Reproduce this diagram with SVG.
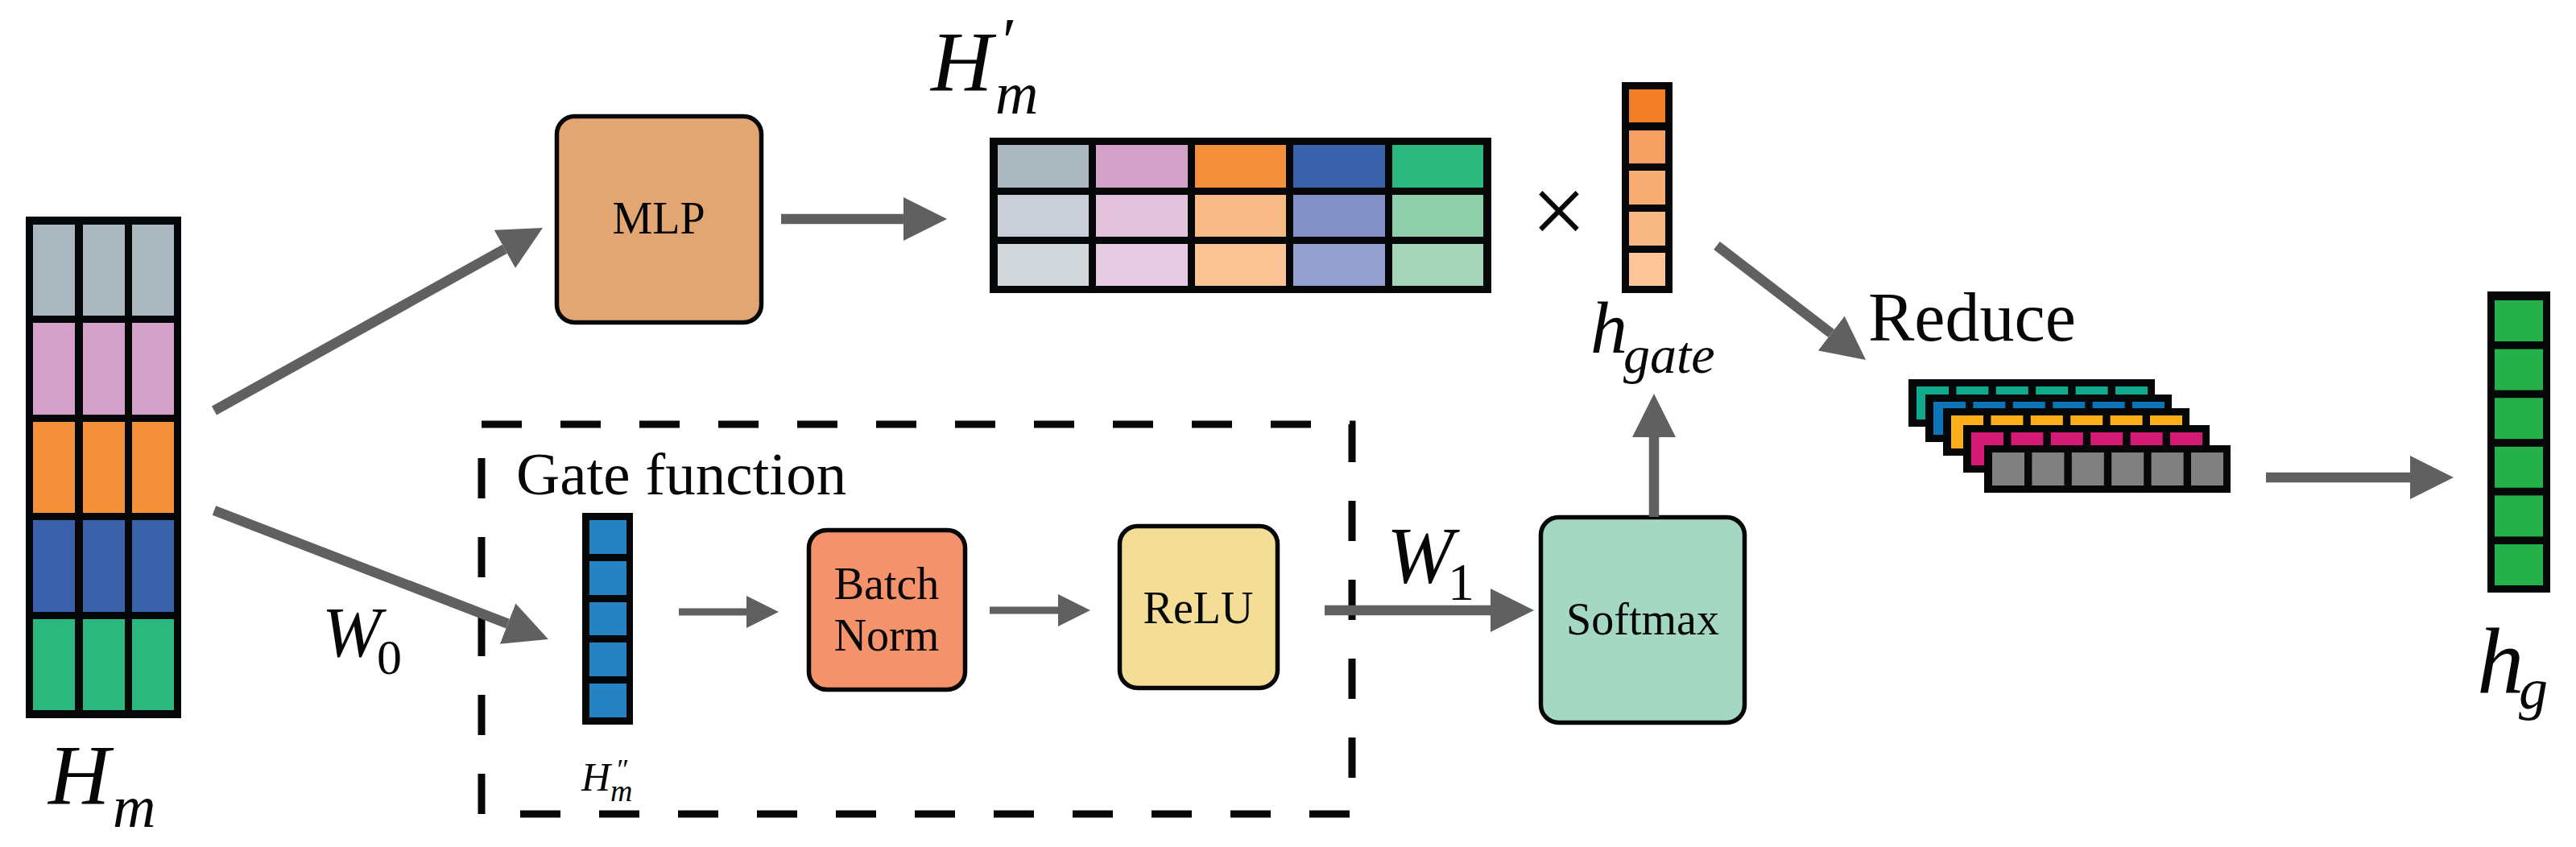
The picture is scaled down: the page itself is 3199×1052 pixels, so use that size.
<svg xmlns="http://www.w3.org/2000/svg" width="3199" height="1052" viewBox="0 0 3199 1052">
<style>
.bk{fill:#060709}
.box{stroke:#060709;stroke-width:5.5}
.t{font-family:"Liberation Serif","Times New Roman",serif;fill:#060709}
.i{font-style:italic}
.ar{stroke:#606060;stroke-width:12.5;fill:none}
.ars{stroke:#606060;stroke-width:9;fill:none}
.dash{fill:none;stroke:#060709;stroke-width:9;stroke-dasharray:50 48}
</style>
<defs>
<marker id="ah" markerUnits="userSpaceOnUse" markerWidth="54" markerHeight="54" viewBox="0 0 54 54" refX="0" refY="27" orient="auto"><path d="M0,0 L54,27 L0,54 z" fill="#606060"/></marker>
<marker id="ahs" markerUnits="userSpaceOnUse" markerWidth="40" markerHeight="40" viewBox="0 0 40 40" refX="0" refY="20" orient="auto"><path d="M0,0 L40,20 L0,40 z" fill="#606060"/></marker>
</defs>
<rect width="3199" height="1052" fill="#ffffff"/>

<g id="Hm">
<rect class="bk" x="32" y="269" width="193" height="623"/>
<g fill="#ABB7BF"><rect x="41" y="279" width="52" height="113"/><rect x="103" y="279" width="52" height="113"/><rect x="164" y="279" width="52" height="113"/></g>
<g fill="#D4A1C9"><rect x="41" y="401" width="52" height="114"/><rect x="103" y="401" width="52" height="114"/><rect x="164" y="401" width="52" height="114"/></g>
<g fill="#F4903A"><rect x="41" y="524" width="52" height="113"/><rect x="103" y="524" width="52" height="113"/><rect x="164" y="524" width="52" height="113"/></g>
<g fill="#3B61AB"><rect x="41" y="646" width="52" height="114"/><rect x="103" y="646" width="52" height="114"/><rect x="164" y="646" width="52" height="114"/></g>
<g fill="#2AB87F"><rect x="41" y="769" width="52" height="113"/><rect x="103" y="769" width="52" height="113"/><rect x="164" y="769" width="52" height="113"/></g>
<text class="t i" x="60" y="998" font-size="106">H</text>
<text class="t i" x="140" y="1027" font-size="74">m</text>
</g>

<g id="MLP">
<rect class="box" x="691.5" y="144.5" width="254" height="256" rx="22" fill="#E2A673"/>
<text class="t" x="818" y="290" font-size="56" text-anchor="middle">MLP</text>
</g>

<g id="Hm_prime">
<rect class="bk" x="1229" y="171" width="623" height="193"/>
<g fill="#ABB7BF"><rect x="1239" y="180" width="113" height="53"/></g>
<g fill="#D4A1C9"><rect x="1361" y="180" width="114" height="53"/></g>
<g fill="#F4903A"><rect x="1484" y="180" width="113" height="53"/></g>
<g fill="#3B61AB"><rect x="1606" y="180" width="114" height="53"/></g>
<g fill="#2AB87F"><rect x="1729" y="180" width="113" height="53"/></g>
<rect x="1239" y="242" width="113" height="52" fill="#CBD0D8"/>
<rect x="1361" y="242" width="114" height="52" fill="#E3C3DC"/>
<rect x="1484" y="242" width="113" height="52" fill="#F8BA86"/>
<rect x="1606" y="242" width="114" height="52" fill="#8491C6"/>
<rect x="1729" y="242" width="113" height="52" fill="#90CFAB"/>
<rect x="1239" y="303" width="113" height="52" fill="#D2D7DC"/>
<rect x="1361" y="303" width="114" height="52" fill="#E5CCE2"/>
<rect x="1484" y="303" width="113" height="52" fill="#FAC495"/>
<rect x="1606" y="303" width="114" height="52" fill="#93A0D0"/>
<rect x="1729" y="303" width="113" height="52" fill="#A5D5B9"/>
<text class="t i" x="1156" y="112" font-size="106">H</text>
<text class="t i" x="1240" y="78" font-size="80">′</text>
<text class="t i" x="1236" y="141" font-size="74">m</text>
</g>

<g id="times">
<text class="t" x="1936" y="303" font-size="122" text-anchor="middle">×</text>
</g>

<g id="h_gate">
<rect class="bk" x="2014" y="102" width="63" height="262"/>
<rect x="2023" y="111" width="45" height="41" fill="#F27E26"/>
<rect x="2023" y="162" width="45" height="41" fill="#F5A062"/>
<rect x="2023" y="212" width="45" height="42" fill="#F7AC72"/>
<rect x="2023" y="263" width="45" height="42" fill="#F9B984"/>
<rect x="2023" y="314" width="45" height="41" fill="#FCC69A"/>
<text class="t i" x="1975" y="438" font-size="92">h</text>
<text class="t i" x="2016" y="463" font-size="66">gate</text>
</g>

<g id="gate_function">
<rect class="dash" x="598" y="527" width="1081" height="484"/>
<text class="t" x="641" y="614" font-size="75">Gate function</text>
</g>

<g id="Hm_dprime">
<rect class="bk" x="723" y="637" width="63" height="263"/>
<g fill="#2583C4">
<rect x="732" y="646" width="46" height="42"/>
<rect x="732" y="697" width="46" height="42"/>
<rect x="732" y="748" width="46" height="41"/>
<rect x="732" y="798" width="46" height="42"/>
<rect x="732" y="849" width="46" height="42"/>
</g>
<text class="t i" x="722" y="982" font-size="50">H</text>
<text class="t i" x="764" y="968" font-size="36">″</text>
<text class="t i" x="758" y="995" font-size="38">m</text>
</g>

<g id="BatchNorm">
<rect class="box" x="1004.5" y="658.5" width="194" height="198" rx="22" fill="#F4926C"/>
<text class="t" x="1101" y="744" font-size="56" text-anchor="middle">Batch</text>
<text class="t" x="1101" y="808" font-size="56" text-anchor="middle">Norm</text>
</g>

<g id="ReLU">
<rect class="box" x="1390.5" y="653.5" width="196" height="201" rx="22" fill="#F4DD94"/>
<text class="t" x="1488" y="774" font-size="56" text-anchor="middle">ReLU</text>
</g>

<g id="Softmax">
<rect class="box" x="1913.5" y="642.5" width="253" height="255" rx="22" fill="#A5D8C3"/>
<text class="t" x="2040" y="788" font-size="56" text-anchor="middle">Softmax</text>
</g>

<g id="reduce_stack">
<text class="t" x="2320" y="423" font-size="86">Reduce</text>
<g>
<rect class="bk" x="2370" y="471" width="306" height="59"/>
<g fill="#10A98B"><rect x="2380" y="480" width="40" height="41"/><rect x="2429.4" y="480" width="40" height="41"/><rect x="2478.8" y="480" width="40" height="41"/><rect x="2528.2" y="480" width="40" height="41"/><rect x="2577.6" y="480" width="40" height="41"/><rect x="2627" y="480" width="40" height="41"/></g>
</g>
<g>
<rect class="bk" x="2391" y="490" width="306" height="59"/>
<g fill="#0A75B8"><rect x="2401" y="499" width="40" height="41"/><rect x="2450.4" y="499" width="40" height="41"/><rect x="2499.8" y="499" width="40" height="41"/><rect x="2549.2" y="499" width="40" height="41"/><rect x="2598.6" y="499" width="40" height="41"/><rect x="2648" y="499" width="40" height="41"/></g>
</g>
<g>
<rect class="bk" x="2413" y="507" width="306" height="59"/>
<g fill="#FBAE1A"><rect x="2423" y="516" width="40" height="41"/><rect x="2472.4" y="516" width="40" height="41"/><rect x="2521.8" y="516" width="40" height="41"/><rect x="2571.2" y="516" width="40" height="41"/><rect x="2620.6" y="516" width="40" height="41"/><rect x="2670" y="516" width="40" height="41"/></g>
</g>
<g>
<rect class="bk" x="2438" y="528" width="306" height="59"/>
<g fill="#D31B75"><rect x="2448" y="537" width="40" height="41"/><rect x="2497.4" y="537" width="40" height="41"/><rect x="2546.8" y="537" width="40" height="41"/><rect x="2596.2" y="537" width="40" height="41"/><rect x="2645.6" y="537" width="40" height="41"/><rect x="2695" y="537" width="40" height="41"/></g>
</g>
<g>
<rect class="bk" x="2464" y="553" width="306" height="59"/>
<g fill="#808080"><rect x="2474" y="562" width="40" height="41"/><rect x="2523.4" y="562" width="40" height="41"/><rect x="2572.8" y="562" width="40" height="41"/><rect x="2622.2" y="562" width="40" height="41"/><rect x="2671.6" y="562" width="40" height="41"/><rect x="2721" y="562" width="40" height="41"/></g>
</g>
</g>

<g id="h_g">
<rect class="bk" x="3089" y="362" width="78" height="374"/>
<g fill="#24B04B">
<rect x="3098" y="373" width="60" height="51"/>
<rect x="3098" y="433.6" width="60" height="51"/>
<rect x="3098" y="494.2" width="60" height="51"/>
<rect x="3098" y="554.8" width="60" height="51"/>
<rect x="3098" y="615.4" width="60" height="51"/>
<rect x="3098" y="676" width="60" height="51"/>
</g>
<text class="t i" x="3076" y="860" font-size="117">h</text>
<text class="t i" x="3128" y="880" font-size="72">g</text>
</g>

<g id="labels">
<text class="t i" x="400" y="815" font-size="88">W</text>
<text class="t" x="468" y="837" font-size="62">0</text>
<text class="t i" x="1722" y="723" font-size="100">W</text>
<text class="t" x="1798" y="745" font-size="66">1</text>
</g>

<g id="connectors">
<line class="ar" x1="266" y1="510" x2="626.8" y2="309.3" marker-end="url(#ah)"/>
<line class="ar" x1="266" y1="634" x2="630.6" y2="774.6" marker-end="url(#ah)"/>
<line class="ar" x1="970" y1="272" x2="1122" y2="272" marker-end="url(#ah)"/>
<line class="ars" x1="843" y1="760" x2="927" y2="760" marker-end="url(#ahs)"/>
<line class="ars" x1="1229" y1="758" x2="1314" y2="758" marker-end="url(#ahs)"/>
<line class="ar" x1="1645" y1="758" x2="1851" y2="758" marker-end="url(#ah)"/>
<line class="ar" x1="2054" y1="642" x2="2054" y2="543" marker-end="url(#ah)"/>
<line class="ar" x1="2132" y1="305" x2="2274.2" y2="414.1" marker-end="url(#ah)"/>
<line class="ar" x1="2814" y1="593" x2="2993" y2="593" marker-end="url(#ah)"/>
</g>
</svg>
